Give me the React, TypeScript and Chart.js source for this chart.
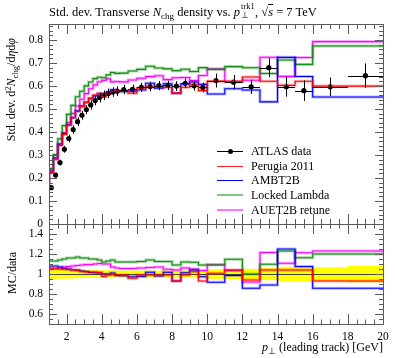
import React, { useEffect, useRef } from 'react';
import { Chart, registerables } from 'chart.js';
Chart.register(...registerables);

// ---- data ----
const binEdges = [1, 1.25, 1.5, 1.75, 2, 2.25, 2.5, 2.75, 3, 3.25, 3.5, 3.75, 4, 4.25, 4.5, 4.75, 5,
  5.5, 6, 6.5, 7, 7.5, 8, 8.5, 9, 9.5, 10, 11, 12, 13, 14, 15, 16, 18, 20];

const dataValues = [0.158, 0.213, 0.267, 0.325, 0.372, 0.411, 0.445, 0.473, 0.498, 0.518, 0.537, 0.550,
  0.560, 0.568, 0.574, 0.578, 0.585, 0.586, 0.594, 0.598, 0.602, 0.603, 0.600, 0.612, 0.601, 0.594,
  0.624, 0.617, 0.597, 0.680, 0.597, 0.580, 0.597, 0.645];

const dataRelErr = [0.048, 0.048, 0.047, 0.046, 0.045, 0.044, 0.042, 0.041, 0.04, 0.04, 0.039, 0.038,
  0.037, 0.037, 0.036, 0.036, 0.035, 0.035, 0.034, 0.034, 0.034, 0.034, 0.035, 0.035, 0.035, 0.036,
  0.048, 0.05, 0.052, 0.062, 0.072, 0.078, 0.067, 0.083];

const perugiaRatio = [1.07, 1.06, 1.055, 1.05, 1.047, 1.045, 1.04, 1.035, 1.025, 1.02, 1.02, 1.02,
  1.015, 0.975, 0.99, 0.995, 0.99, 0.99, 0.957, 0.99, 0.99, 0.99, 0.99, 0.93, 0.99, 1.023,
  0.93, 1.007, 1.04, 0.94, 1.04, 1.04, 1.04, 0.93];

const ambtRatio = [1.097, 1.08, 1.08, 1.07, 1.057, 1.05, 1.04, 1.04, 1.03, 1.025, 1.015, 1.013,
  1.01, 1.0, 1.0, 1.01, 0.985, 0.983, 0.973, 0.975, 1.017, 0.98, 1.017, 0.93, 1.013, 1.04,
  0.973, 0.917, 0.985, 0.857, 0.89, 1.25, 1.075, 0.857];

const lockedRatio = [1.15, 1.13, 1.13, 1.14, 1.15, 1.16, 1.16, 1.17, 1.16, 1.16, 1.15, 1.15,
  1.14, 1.12, 1.13, 1.14, 1.12, 1.12, 1.12, 1.125, 1.14, 1.125, 1.125, 1.09, 1.12, 1.117,
  1.09, 1.09, 1.147, 1.0, 1.097, 1.23, 1.163, 1.2];

const auetRatio = [1.045, 1.05, 1.055, 1.06, 1.07, 1.075, 1.08, 1.085, 1.09, 1.095, 1.095, 1.1,
  1.105, 1.1, 1.1, 1.07, 1.06, 1.055, 1.055, 1.06, 1.065, 1.07, 1.047, 1.04, 1.06, 1.05,
  1.035, 1.095, 1.036, 0.92, 1.215, 1.107, 1.213, 1.23];

const seriesNames = ['ATLAS data', 'Perugia 2011', 'AMBT2B', 'Locked Lambda', 'AUET2B retune'];
const xTickValues = [2, 4, 6, 8, 10, 12, 14, 16, 18, 20];
const mainYTickValues = [0, 0.1, 0.2, 0.3, 0.4, 0.5, 0.6, 0.7, 0.8];
const ratioYTickValues = [0.6, 0.8, 1, 1.2, 1.4];

// ---- styling ----
const FONT = "'Liberation Serif', serif";
const mcStyles = [
  { line: '#ff0000', halo: 'rgba(255,0,0,0.28)' },
  { line: '#0000ff', halo: 'rgba(0,0,255,0.28)' },
  { line: '#1a8f1a', halo: 'rgba(0,140,0,0.33)' },
  { line: '#ff00ff', halo: 'rgba(255,0,255,0.33)' },
];
const mcRatios = [perugiaRatio, ambtRatio, lockedRatio, auetRatio];

const stepPoints = (vals: number[]) =>
  binEdges.map((e, i) => ({ x: e, y: vals[Math.min(i, vals.length - 1)] }));

function mcDatasets(valueSets: number[][], yAxisID: string) {
  const out: any[] = [];
  valueSets.forEach((vals, k) => {
    out.push({
      data: stepPoints(vals), yAxisID, stepped: 'after', borderColor: mcStyles[k].halo,
      borderWidth: 3, pointRadius: 0, fill: false,
    });
    out.push({
      data: stepPoints(vals), yAxisID, stepped: 'after', borderColor: mcStyles[k].line,
      borderWidth: 1.1, pointRadius: 0, fill: false,
    });
  });
  return out;
}

function drawFrameTicks(chart: any, yMin: number, yStep: number, yMajorEvery: number, yMajorOffset: number,
  yMax: number, xMajLen: number, xMinLen: number) {
  const { ctx, chartArea: a, scales } = chart;
  const xs = scales.x, ys = scales.y;
  ctx.save();
  ctx.strokeStyle = '#5a5a5a';
  ctx.lineWidth = 1;
  ctx.beginPath();
  ctx.rect(Math.round(a.left) + 0.5, Math.round(a.top) + 0.5, Math.round(a.right - a.left), Math.round(a.bottom - a.top));
  ctx.stroke();
  ctx.beginPath();
  for (let k = 0; ; k++) {
    const v = 1 + 0.5 * k;
    if (v > 20.0001) break;
    const px = Math.round(xs.getPixelForValue(v)) + 0.5;
    const major = Math.abs(v / 2 - Math.round(v / 2)) < 1e-6;
    const len = major ? xMajLen : xMinLen;
    ctx.moveTo(px, a.bottom); ctx.lineTo(px, a.bottom - len);
    ctx.moveTo(px, a.top); ctx.lineTo(px, a.top + len);
  }
  for (let k = 0; ; k++) {
    const v = yMin + yStep * k;
    if (v > yMax + 1e-6) break;
    const py = Math.round(ys.getPixelForValue(v)) + 0.5;
    const major = (k - yMajorOffset) % yMajorEvery === 0;
    const len = major ? 8 : 4;
    ctx.moveTo(a.left, py); ctx.lineTo(a.left + len, py);
    ctx.moveTo(a.right, py); ctx.lineTo(a.right - len, py);
  }
  ctx.stroke();
  ctx.restore();
}

const mainPlugin = {
  id: 'rivetMain',
  afterDatasetsDraw(chart: any) {
    const { ctx, scales } = chart;
    const xs = scales.x, ys = scales.y;
    ctx.save();
    ctx.strokeStyle = '#000';
    ctx.lineWidth = 1;
    ctx.beginPath();
    dataValues.forEach((v, i) => {
      const x0 = xs.getPixelForValue(binEdges[i]);
      const x1 = xs.getPixelForValue(binEdges[i + 1]);
      const xc = Math.round(xs.getPixelForValue((binEdges[i] + binEdges[i + 1]) / 2)) + 0.5;
      const py = Math.round(ys.getPixelForValue(v)) + 0.5;
      const e = v * dataRelErr[i];
      ctx.moveTo(x0, py); ctx.lineTo(x1, py);
      ctx.moveTo(xc, ys.getPixelForValue(v - e)); ctx.lineTo(xc, ys.getPixelForValue(v + e));
    });
    ctx.stroke();
    ctx.restore();
  },
  afterDraw(chart: any) {
    drawFrameTicks(chart, 0, 0.02, 5, 0, 0.87, 10, 5);
  },
};

const ratioPlugin = {
  id: 'rivetRatio',
  beforeDatasetsDraw(chart: any) {
    const { ctx, scales, chartArea: a } = chart;
    const xs = scales.x, ys = scales.y;
    ctx.save();
    ctx.beginPath();
    ctx.rect(a.left, a.top, a.right - a.left, a.bottom - a.top);
    ctx.clip();
    ctx.fillStyle = '#ffff00';
    dataRelErr.forEach((r, i) => {
      const x0 = xs.getPixelForValue(binEdges[i]);
      const x1 = xs.getPixelForValue(binEdges[i + 1]);
      const y0 = ys.getPixelForValue(1 + r);
      const y1 = ys.getPixelForValue(1 - r);
      ctx.fillRect(x0, y0, x1 - x0 + 0.5, y1 - y0);
    });
    ctx.strokeStyle = '#444';
    ctx.lineWidth = 1;
    ctx.beginPath();
    const py = Math.round(ys.getPixelForValue(1)) + 0.5;
    ctx.moveTo(xs.getPixelForValue(binEdges[0]), py);
    ctx.lineTo(xs.getPixelForValue(binEdges[binEdges.length - 1]), py);
    ctx.stroke();
    ctx.restore();
  },
  afterDraw(chart: any) {
    drawFrameTicks(chart, 0.5, 0.05, 4, 2, 1.5, 10, 4.5);
  },
};

const tickFont = { family: FONT, size: 11.5 };

export default function App() {
  const mainRef = useRef<HTMLCanvasElement>(null);
  const ratioRef = useRef<HTMLCanvasElement>(null);

  useEffect(() => {
    const mainValues = mcRatios.map((r) => r.map((q, i) => q * dataValues[i]));
    const centers = dataValues.map((v, i) => ({ x: (binEdges[i] + binEdges[i + 1]) / 2, y: v }));

    const main = new Chart(mainRef.current as HTMLCanvasElement, {
      type: 'line',
      data: {
        datasets: [
          ...mcDatasets(mainValues, 'y'),
          {
            data: centers, yAxisID: 'y', showLine: false, pointRadius: 2.6,
            pointBackgroundColor: '#000', pointBorderWidth: 0, borderColor: '#000',
          },
        ],
      },
      options: {
        animation: false,
        responsive: false,
        devicePixelRatio: 1,
        layout: { padding: { top: 24, bottom: 134, left: 0, right: 14 } },
        plugins: { legend: { display: false }, tooltip: { enabled: false } },
        scales: {
          x: { type: 'linear', min: 1, max: 20, display: false },
          y: {
            type: 'linear', min: 0, max: 0.87,
            grid: { display: false, drawTicks: false },
            border: { display: false },
            ticks: { font: tickFont, color: '#000', padding: 6, autoSkip: false, callback: (v: any) => String(v) },
            afterBuildTicks: (s: any) => { s.ticks = mainYTickValues.map((v) => ({ value: v })); },
            afterFit: (s: any) => { s.width = 49; },
          },
        },
      } as any,
      plugins: [mainPlugin],
    });

    const ratio = new Chart(ratioRef.current as HTMLCanvasElement, {
      type: 'line',
      data: { datasets: mcDatasets(mcRatios, 'y') },
      options: {
        animation: false,
        responsive: false,
        devicePixelRatio: 1,
        layout: { padding: { top: 224, bottom: 0, left: 0, right: 14 } },
        plugins: { legend: { display: false }, tooltip: { enabled: false } },
        scales: {
          x: {
            type: 'linear', min: 1, max: 20,
            grid: { display: false, drawTicks: false },
            border: { display: false },
            ticks: { font: tickFont, color: '#000', padding: 6, autoSkip: false, maxRotation: 0, callback: (v: any) => String(v) },
            afterBuildTicks: (s: any) => { s.ticks = xTickValues.map((v) => ({ value: v })); },
            afterFit: (s: any) => { s.height = 34; },
          },
          y: {
            type: 'linear', min: 0.5, max: 1.5,
            grid: { display: false, drawTicks: false },
            border: { display: false },
            ticks: { font: tickFont, color: '#000', padding: 6, autoSkip: false, callback: (v: any) => String(v) },
            afterBuildTicks: (s: any) => { s.ticks = ratioYTickValues.map((v) => ({ value: v })); },
            afterFit: (s: any) => { s.width = 49; },
          },
        },
      } as any,
      plugins: [ratioPlugin],
    });

    return () => { main.destroy(); ratio.destroy(); };
  }, []);

  const sub = (t: string) => (
    <span style={{ fontSize: '72%', position: 'relative', top: '0.3em', lineHeight: 0 }}>{t}</span>
  );

  const legendStyles = [
    { color: '#000', w: 1 },
    { color: '#ff2020', w: 1 },
    { color: '#0000ff', w: 1 },
    { color: 'rgba(0,140,0,0.5)', w: 2 },
    { color: 'rgba(255,0,255,0.55)', w: 2 },
  ];
  const legendY = [151, 166, 180, 195, 210];

  return (
    <div style={{ position: 'fixed', left: 0, top: 0, width: 397, height: 358, background: '#fff', overflow: 'hidden', fontFamily: FONT, color: '#000' }}>
      <canvas ref={mainRef} width={397} height={358} style={{ position: 'absolute', left: 0, top: 0 }} />
      <canvas ref={ratioRef} width={397} height={358} style={{ position: 'absolute', left: 0, top: 0 }} />

      {/* title */}
      <div style={{ position: 'absolute', left: 49, top: 4, fontSize: 12.5, lineHeight: '16px', whiteSpace: 'nowrap' }}>
        Std. dev. Transverse <i>N</i>{sub('chg')} density vs. <i>p</i>
        <span style={{ display: 'inline-block', position: 'relative', width: 15, height: 10, fontSize: '68%' }}>
          <span style={{ position: 'absolute', left: 1, top: -4, lineHeight: 1 }}>trk1</span>
          <span style={{ position: 'absolute', left: 1, top: 5, lineHeight: 1 }}>⊥</span>
        </span>
        , √<span style={{ borderTop: '1px solid #000', fontStyle: 'italic' }}>s</span> = 7 TeV
      </div>

      {/* y label main */}
      <div style={{ position: 'absolute', left: 4, top: 238, width: 200, height: 14, transformOrigin: '0 0', transform: 'rotate(-90deg)', textAlign: 'right', fontSize: 12, lineHeight: '14px', whiteSpace: 'nowrap' }}>
        Std. dev. d<span style={{ fontSize: '72%', position: 'relative', top: '-0.45em' }}>2</span><i>N</i>{sub('chg')}/d<i>η</i>d<i>φ</i>
      </div>

      {/* y label ratio */}
      <div style={{ position: 'absolute', left: 5, top: 352, width: 100, height: 14, transformOrigin: '0 0', transform: 'rotate(-90deg)', textAlign: 'right', fontSize: 12, lineHeight: '14px', whiteSpace: 'nowrap' }}>
        MC/data
      </div>

      {/* x label */}
      <div style={{ position: 'absolute', left: 183, width: 200, top: 340, textAlign: 'right', fontSize: 12, lineHeight: '14px', whiteSpace: 'nowrap' }}>
        <i>p</i>{sub('⊥')} (leading track) [GeV]
      </div>

      {/* legend */}
      {seriesNames.map((name, i) => (
        <React.Fragment key={name}>
          <div style={{ position: 'absolute', left: 217, width: 26, top: legendY[i] - Math.floor(legendStyles[i].w / 2), height: legendStyles[i].w, background: legendStyles[i].color }} />
          {i === 0 && (
            <div style={{ position: 'absolute', left: 227.5, top: legendY[i] - 2.3, width: 5, height: 5, borderRadius: '50%', background: '#000' }} />
          )}
          <div style={{ position: 'absolute', left: 251, top: legendY[i] - 8, height: 16, lineHeight: '16px', fontSize: 12, whiteSpace: 'nowrap' }}>
            {name}
          </div>
        </React.Fragment>
      ))}
    </div>
  );
}
